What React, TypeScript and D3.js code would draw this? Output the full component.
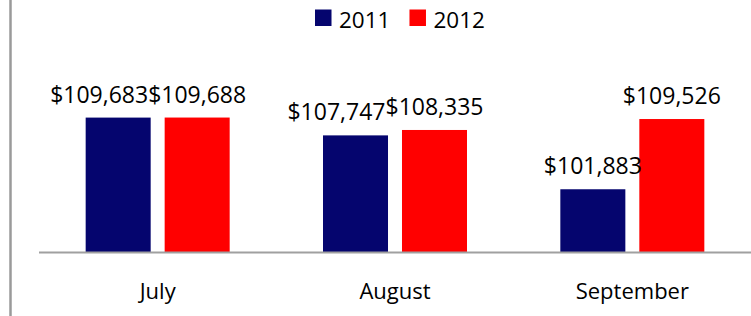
import React, { useEffect, useRef } from "react";
import * as d3 from "d3";

const categories = ["July", "August", "September"];
const seriesNames = ["2011", "2012"];
const values2011 = [109683, 107747, 101883];
const values2012 = [109688, 108335, 109526];
const seriesColors = ["#05056e", "#ff0000"];
const yDomain = [95000, 112000];

export default function App() {
  const ref = useRef<SVGSVGElement>(null);

  useEffect(() => {
    const svg = d3.select(ref.current);
    svg.selectAll("*").remove();
    const font = "'Open Sans', sans-serif";
    const series = [values2011, values2012];

    const x0 = d3.scaleBand<string>().domain(categories).range([39, 751]);
    const groupW = 144;
    const x1 = d3.scaleBand<string>().domain(seriesNames).range([0, groupW]).paddingInner(0.177);
    const y = d3.scaleLinear().domain(yDomain).range([252.5, 96.3]);
    const fmt = d3.format("$,");

    // vertical border line
    svg.append("line").attr("x1", 10.5).attr("x2", 10.5).attr("y1", 0).attr("y2", 316)
      .attr("stroke", "#9a9a9a").attr("stroke-width", 2.5);

    const barX = (ci: number, si: number) =>
      (x0(categories[ci]) as number) + (x0.bandwidth() - groupW) / 2 + (x1(seriesNames[si]) as number);

    // bars
    series.forEach((vals, si) => {
      svg.append("g").selectAll("rect").data(vals).join("rect")
        .attr("x", (_d, ci) => barX(ci, si))
        .attr("width", x1.bandwidth())
        .attr("y", (d) => y(d))
        .attr("height", (d) => y(yDomain[0]) - y(d))
        .attr("fill", seriesColors[si]);
    });

    // baseline
    svg.append("line").attr("x1", 39).attr("x2", 751).attr("y1", y(yDomain[0])).attr("y2", y(yDomain[0]))
      .attr("stroke", "#a0a0a0").attr("stroke-width", 2);

    // data labels
    const labelG = svg.append("g").attr("font-family", font).attr("font-size", 23).attr("fill", "#000");
    categories.forEach((_c, ci) => {
      const items = series.map((vals, si) => {
        const cx = barX(ci, si) + x1.bandwidth() / 2;
        const by = y(vals[ci]) - 15;
        const t = labelG.append("text").attr("x", cx).attr("y", by).attr("text-anchor", "middle").text(fmt(vals[ci]));
        const w = (t.node() as SVGTextElement).getComputedTextLength();
        return { t, cx, by, w };
      });
      const [a, b] = items;
      const vOverlap = Math.abs(a.by - b.by) < 20;
      const aRight = a.cx + a.w / 2;
      const bLeft = b.cx - b.w / 2;
      if (vOverlap && aRight > bLeft) {
        a.t.attr("x", a.cx - (aRight - bLeft));
      }
    });

    // category labels
    svg.append("g").selectAll("text").data(categories).join("text")
      .attr("x", (d) => (x0(d) as number) + x0.bandwidth() / 2)
      .attr("y", 299)
      .attr("text-anchor", "middle")
      .attr("font-family", font).attr("font-size", 22).attr("fill", "#000")
      .text((d) => d);

    // legend
    const lg = svg.append("g").attr("font-family", font).attr("font-size", 22.5);
    let lx = 315;
    seriesNames.forEach((name, si) => {
      lg.append("rect").attr("x", lx).attr("y", 9.5).attr("width", 16.5).attr("height", 16.5).attr("fill", seriesColors[si]);
      const t = lg.append("text").attr("x", lx + 24).attr("y", 27.5).attr("fill", "#000").text(name);
      const w = (t.node() as SVGTextElement).getComputedTextLength();
      lx = lx + 24 + w + 19;
    });
  }, []);

  return (
    <svg
      ref={ref}
      width={751}
      height={316}
      style={{ position: "absolute", left: 0, top: 0, background: "#fff" }}
    />
  );
}
